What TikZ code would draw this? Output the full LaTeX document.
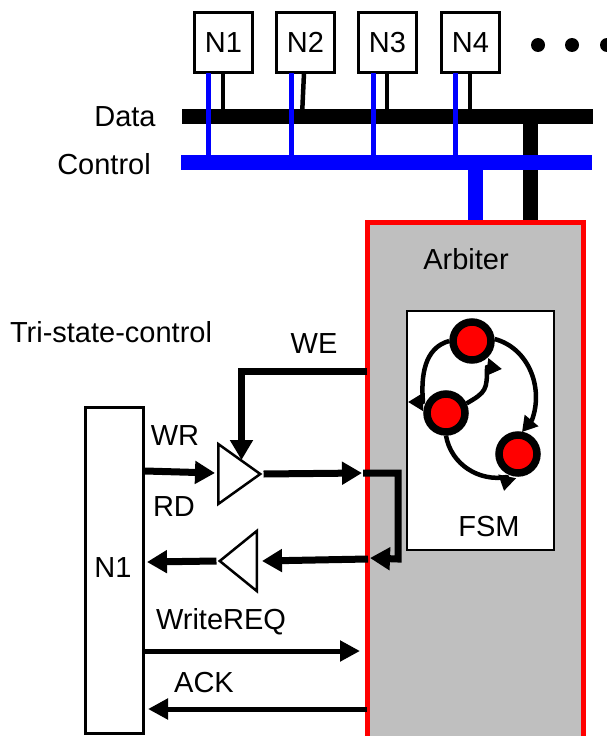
\documentclass[tikz,border=0pt]{standalone}
\usepackage{fontspec}
\setmainfont{Liberation Sans}
\usetikzlibrary{arrows.meta}
\usetikzlibrary{shapes.geometric}

\begin{document}
\begin{tikzpicture}[x=1pt,y=-1pt]
\tikzstyle{label} = [inner sep=0pt, font=\fontsize{29}{32}\selectfont]
\tikzstyle{nodebox} = [draw, line width=3.5pt, minimum width=58pt, minimum height=60pt, inner sep=0pt, font=\fontsize{29}{32}\selectfont]
\tikzstyle{state} = [circle, draw, fill=red, line width=7.5pt, minimum size=38pt, inner sep=0pt]
\tikzstyle{buffer} = [isosceles triangle, isosceles triangle stretches, draw, line width=2.5pt, minimum width=60pt, inner sep=0pt]
\tikzstyle{dotmark} = [circle, fill=black, minimum size=14pt, inner sep=0pt]
\tikzstyle{sig} = [line width=7pt, -{Triangle[length=20pt,width=22pt]}]
\tikzstyle{thinsig} = [line width=5pt, -{Triangle[length=20pt,width=20pt]}]
\tikzstyle{fsmarc} = [line width=4.5pt, line join=round, -{Triangle[length=15pt,width=17pt]}]
\useasboundingbox (0,0) rectangle (607,736);
\clip (0,0) rectangle (607,736);

\node[nodebox](n1) at (223.5,42.5){N1};
\node[nodebox](n2) at (305.5,42.5){N2};
\node[nodebox](n3) at (387.5,42.5){N3};
\node[nodebox](n4) at (470.5,42.5){N4};
\node[dotmark](dota) at (538,45){};
\node[dotmark](dotb) at (572,45){};
\node[dotmark](dotc) at (607,45){};

\node[label](datalabel) at (125,117){Data};
\node[label](controllabel) at (104,164){Control};
\coordinate (datal) at (182,116.5);
\coordinate (datar) at (593,116.5);
\coordinate (controll) at (181,162.5);
\coordinate (controlr) at (592,162.5);

\node[draw=red, fill=black!25, line width=5pt, minimum width=216pt, minimum height=530pt](arbiter) at (475,487){};
\node[label](arbiterlabel) at (466,259){Arbiter};

%data bus with stubs
\draw[line width=4.5pt] (223,73) -- (223,116);
\draw[line width=4.5pt] (304,73) -- (302,116);
\draw[line width=4.5pt] (387,73) -- (387,116);
\draw[line width=4.5pt] (470,73) -- (470,116);
\draw[line width=15pt] (datal) -- (datar);
\draw[line width=15pt] (530,116) -- (530,220);
%control bus with stubs
\draw[blue, line width=5pt] (208.5,73) -- (208.5,160);
\draw[blue, line width=5pt] (291,73) -- (291,160);
\draw[blue, line width=5pt] (373,73) -- (373,160);
\draw[blue, line width=5pt] (455,73) -- (455,160);
\draw[blue, line width=15pt] (controll) -- (controlr);
\draw[blue, line width=15pt] (475,165) -- (475,220);

\node[draw, fill=white, line width=2.5pt, minimum width=147pt, minimum height=239pt](fsm) at (480.5,430.5){};
\node[label](fsmlabel) at (489,527){FSM};
\node[state](sa) at (472,341){};
\node[state](sb) at (446,413){};
\node[state](sc) at (518,454){};
%heads of the arcs do not follow the curve
\coordinate (basea) at (423,402);
\coordinate (tipa) at (408,402);
\coordinate (baseb) at (487,367);
\coordinate (tipb) at (502,369);
\coordinate (basec) at (532,420);
\coordinate (tipc) at (522,432);
\coordinate (based) at (507,477);
\coordinate (tipd) at (504,491);
\draw[fsmarc] (sa.180) to[out=195,in=95] (basea) -- (tipa);
\draw[fsmarc] (sb.25) to[out=30,in=-90,looseness=1.4] (baseb) -- (tipb);
\draw[fsmarc] (sa.5) to[out=-15,in=70] (basec) -- (tipc);
\draw[fsmarc] (sb.-90) to[out=-80,in=190] (based) -- (tipd);

\node[label](tristate) at (111,332){Tri-state-control};
\node[label](welabel) at (314,344){WE};
\node[label](wrlabel) at (175,436){WR};
\node[label](rdlabel) at (174,507){RD};
\node[label](reqlabel) at (221,622){WriteREQ};
\node[label](acklabel) at (204,683){ACK};

\node[draw, line width=3pt, minimum width=58pt, minimum height=326pt, inner sep=0pt](cpu) at (114,570){};
\node[label](cpulabel) at (113,568){N1};

\node[buffer, minimum height=42pt, anchor=west](bufw) at (217,474){};
\node[buffer, minimum height=37pt, shape border rotate=180, anchor=east](bufr) at (258,561){};

\coordinate (wein) at (367,371);
\coordinate (wecorner) at (241.5,371);
\coordinate (wetip) at (241.5,460);
\coordinate (wrout) at (145,471);
\coordinate (wrtip) at (215,473);
\coordinate (arbin) at (362,473);
\coordinate (loopa) at (363,473);
\coordinate (loopb) at (398,473);
\coordinate (loopc) at (398,559);
\coordinate (looptip) at (370,558);
\coordinate (rdin) at (368,559);
\coordinate (rdtip) at (262,561);
\coordinate (cputip) at (147,562);
\coordinate (reqout) at (143,651);
\coordinate (reqtip) at (360,651);
\coordinate (ackout) at (367,709);
\coordinate (acktip) at (148,709);

\draw[sig] (wein) -- (wecorner) -- (wetip);
\draw[sig] (wrout) -- (wrtip);
\draw[sig] (bufw.apex) -- (arbin);
\draw[sig] (loopa) -- (loopb) -- (loopc) -- (looptip);
\draw[sig] (rdin) -- (rdtip);
\draw[sig] (bufr.apex) -- (cputip);
\draw[thinsig] (reqout) -- (reqtip);
\draw[thinsig] (ackout) -- (acktip);
\end{tikzpicture}
\end{document}
